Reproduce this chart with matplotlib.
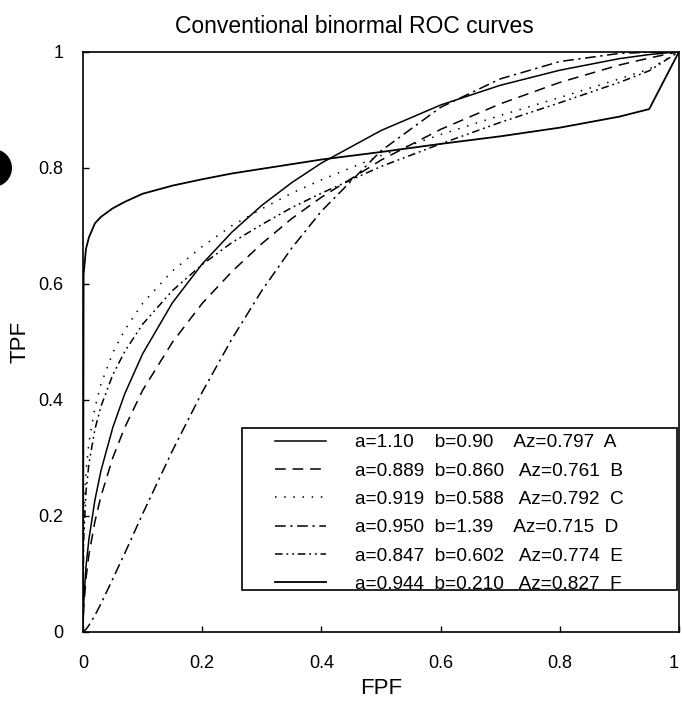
import matplotlib
matplotlib.use("Agg")
import matplotlib.pyplot as plt
from matplotlib.patches import Rectangle, Circle

plt.rcParams['font.family'] = ['Liberation Sans', 'DejaVu Sans']

# false positive fraction grid
fpf = [0, 0.001, 0.005, 0.01, 0.02, 0.03, 0.05, 0.07, 0.1, 0.15, 0.2, 0.25,
       0.3, 0.35, 0.4, 0.5, 0.6, 0.7, 0.8, 0.9, 0.95, 1]

tpf_a = [0, 0.046, 0.112, 0.160, 0.227, 0.277, 0.352, 0.410, 0.479, 0.567, 0.634, 0.689,
         0.735, 0.774, 0.808, 0.864, 0.908, 0.942, 0.968, 0.988, 0.995, 1]
tpf_b = [0, 0.039, 0.092, 0.133, 0.190, 0.233, 0.300, 0.352, 0.416, 0.499, 0.566, 0.621,
         0.669, 0.712, 0.749, 0.813, 0.866, 0.910, 0.947, 0.977, 0.989, 1]
tpf_c = [0, 0.185, 0.276, 0.327, 0.386, 0.426, 0.481, 0.520, 0.566, 0.622, 0.664, 0.700,
         0.729, 0.756, 0.779, 0.821, 0.857, 0.890, 0.921, 0.953, 0.970, 1]
tpf_d = [0, 0.0004, 0.004, 0.011, 0.028, 0.048, 0.091, 0.135, 0.203, 0.312, 0.413, 0.505,
         0.588, 0.661, 0.725, 0.829, 0.904, 0.953, 0.983, 0.997, 0.999, 1]
tpf_e = [0, 0.156, 0.241, 0.290, 0.349, 0.388, 0.443, 0.483, 0.530, 0.588, 0.633, 0.671,
         0.702, 0.731, 0.756, 0.802, 0.841, 0.878, 0.912, 0.947, 0.967, 1]
tpf_f = [0, 0.616, 0.660, 0.680, 0.704, 0.715, 0.730, 0.741, 0.755, 0.769, 0.780, 0.790,
         0.798, 0.806, 0.814, 0.827, 0.841, 0.854, 0.869, 0.888, 0.901, 1]

labels = ['a=1.10    b=0.90    Az=0.797  A',
          'a=0.889  b=0.860   Az=0.761  B',
          'a=0.919  b=0.588   Az=0.792  C',
          'a=0.950  b=1.39    Az=0.715  D',
          'a=0.847  b=0.602   Az=0.774  E',
          'a=0.944  b=0.210   Az=0.827  F']
tick_vals = [0, 0.2, 0.4, 0.6, 0.8, 1]
tick_labels = ['0', '0.2', '0.4', '0.6', '0.8', '1']

fig = plt.figure(figsize=(6.82, 7.01), dpi=100)
ax = fig.add_axes([0.1217, 0.0989, 0.8739, 0.8274])

curves = [tpf_a, tpf_b, tpf_c, tpf_d, tpf_e, tpf_f]
dash_list = [None, (7, 4.5), (1, 5), (7, 3, 1.5, 3), (5, 2.5, 1.2, 2.5, 1.2, 2.5), None]
widths = [1.1, 1.1, 1.1, 1.1, 1.1, 1.3]
for tpf, dsh, w, lab in zip(curves, dash_list, widths, labels):
    line, = ax.plot(fpf, tpf, color='black', lw=w, label=lab)
    if dsh is not None:
        line.set_dashes(dsh)

ax.set_xlim(0, 1)
ax.set_ylim(0, 1)
ax.set_xticks(tick_vals)
ax.set_xticklabels(tick_labels)
ax.set_yticks(tick_vals)
ax.set_yticklabels(tick_labels)
ax.tick_params(direction='in', length=4, width=1, labelsize=13)
ax.tick_params(axis='x', pad=17)
ax.tick_params(axis='y', pad=14)
# last x label sits against the right edge in the original
ax.get_xticklabels()[-1].set_horizontalalignment('right')
for sp in ax.spines.values():
    sp.set_linewidth(1.2)

# legend box drawn as a plain rectangle, entries placed inside it
ax.add_patch(Rectangle((0.267, 0.072), 0.730, 0.279, transform=ax.transAxes,
                       facecolor='white', edgecolor='black', lw=1.2, zorder=4))
leg = ax.legend(loc='upper left', bbox_to_anchor=(0.322, 0.341), frameon=False,
                fontsize=13.7, handlelength=2.7, handletextpad=1.5,
                labelspacing=0.58, borderpad=0, borderaxespad=0)
leg.set_zorder(5)

ax.set_xlabel('FPF', fontsize=16, labelpad=4)
ax.set_ylabel('TPF', fontsize=16, labelpad=6)
fig.text(0.52, 0.953, 'Conventional binormal ROC curves', fontsize=16.5,
         ha='center', va='baseline')

# scanner punch-hole mark at the left edge
fig.patches.append(Circle((-0.07, 5.33), 0.19, transform=fig.dpi_scale_trans,
                          facecolor='black', edgecolor='none'))

plt.savefig('out.png', dpi=100)
